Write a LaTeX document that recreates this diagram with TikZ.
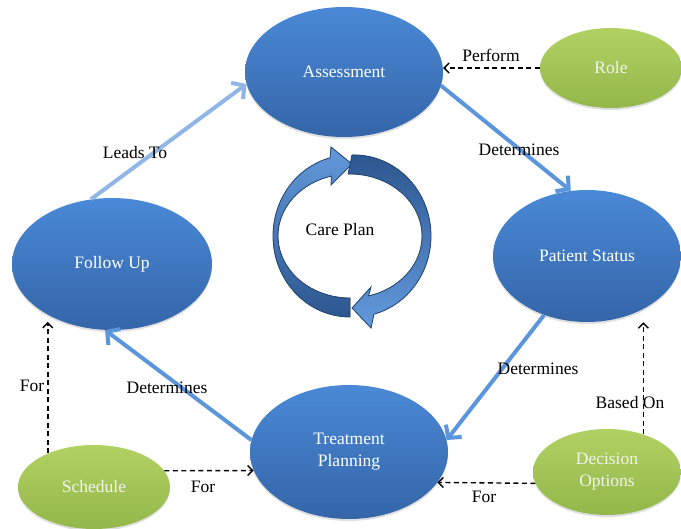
\documentclass[tikz,border=0pt]{standalone}
\usepackage{fontspec}
\setmainfont{Liberation Serif}
\usetikzlibrary{shapes.geometric,arrows.meta,shadows,calc}
\definecolor{bltop}{HTML}{4A89D6}
\definecolor{blbot}{HTML}{3465A8}
\definecolor{grtop}{HTML}{B2D163}
\definecolor{grbot}{HTML}{93B74A}
\definecolor{flowblue}{HTML}{5B95DB}
\definecolor{flowlight}{HTML}{8FB6E6}
\definecolor{arrline}{HTML}{24466F}
\begin{document}
\begin{tikzpicture}[x=1pt,y=-1pt,
  font=\fontsize{17.5}{22}\selectfont,
  bubble/.style={ellipse, inner sep=0pt, align=center, text=white,
    drop shadow={shadow xshift=0pt, shadow yshift=-2pt, opacity=.25}},
  bluebubble/.style={bubble, top color=bltop, bottom color=blbot},
  greenbubble/.style={bubble, top color=grtop, bottom color=grbot, text=white!95!black},
  flow/.style={draw=flowblue, line width=4pt, -{Straight Barb[length=9pt,width=20pt]}},
  dep/.style={draw=black, line width=1.4pt, dash pattern=on 5pt off 3.5pt,
    -{Straight Barb[length=5pt,width=10pt]}},
  lbl/.style={inner sep=1pt, text=black}
]
\useasboundingbox (0,0) rectangle (681,529);

% main nodes
\node[bluebubble, minimum width=198pt, minimum height=130pt] (as) at (344,72) {Assessment};
\node[bluebubble, minimum width=188pt, minimum height=132pt] (ps) at (587,256) {Patient Status};
\node[bluebubble, minimum width=200pt, minimum height=132pt] (fu) at (112,264) {Follow Up};
\node[bluebubble, minimum width=198pt, minimum height=134pt] (tp) at (349,452) {Treatment\\Planning};
\node[greenbubble, minimum width=142pt, minimum height=80pt] (role) at (611,68) {Role};
\node[greenbubble, minimum width=152pt, minimum height=84pt] (sch) at (94,487) {Schedule};
\node[greenbubble, minimum width=148pt, minimum height=86pt] (dec) at (607,472) {Decision\\Options};

% central circular arrows
\filldraw[draw=arrline, line width=0.8pt, top color=flowblue!95!white, bottom color=blbot!85!black]
  (350,317) arc[start angle=90, end angle=255, x radius=77, y radius=81]
  -- (331,147) -- (352,164) -- (331,185)
  -- (331.4,176.1) arc[start angle=255, end angle=90, x radius=72, y radius=62] -- cycle;
\filldraw[draw=arrline, line width=0.8pt, top color=blbot!85!black, bottom color=flowblue!95!white]
  (352,155) arc[start angle=268.5, end angle=435, x radius=77, y radius=81]
  -- (371,328) -- (352,308) -- (371,287)
  -- (368.6,295.9) arc[start angle=435, end angle=268.5, x radius=72, y radius=62] -- cycle;
\node[lbl] (cp) at (340,230) {Care Plan};

% flow connectors
\draw[flow, draw=flowlight] (fu.108) -- (as.187);
\draw[flow] (as.352) -- (ps.104);
\draw[flow] (ps.234) -- (tp.7);
\draw[flow] (tp.173) -- (fu.264);

% dashed connectors
\draw[dep] (role.west) -- (role.west -| as.east);
\draw[dep] (dec.46) -- (dec.46 |- ps.south);
\draw[dep] (dec.189) -- (tp.341);
\draw[dep] (sch.144) -- (sch.144 |- fu.230);
\draw[dep] (sch.13) -- (tp.191);

% labels
\node[lbl] (l1) at (135,153) {Leads To};
\node[lbl] (l2) at (519,150) {Determines};
\node[lbl] (l3) at (538,369) {Determines};
\node[lbl] (l4) at (167,388) {Determines};
\node[lbl] (l5) at (491,55) {Perform};
\node[lbl] (l6) at (630,403) {Based On};
\node[lbl] (l7) at (484,497) {For};
\node[lbl] (l8) at (32,386) {For};
\node[lbl] (l9) at (203,487) {For};
\end{tikzpicture}
\end{document}
